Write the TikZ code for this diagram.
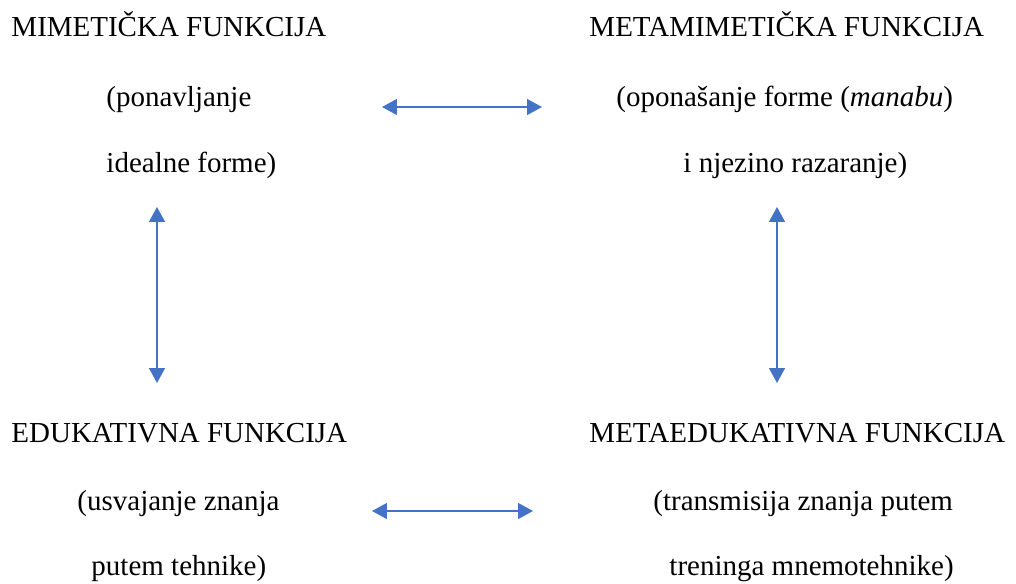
\documentclass[tikz,border=0pt]{standalone}
\usepackage{fontspec}
\setmainfont{Liberation Serif}
\usetikzlibrary{arrows.meta}
\definecolor{arrowblue}{HTML}{4472C4}
\begin{document}
\begin{tikzpicture}
[x=0.414pt,y=-0.414pt,
every node/.style={anchor=base west,inner sep=0pt,font=\rmfamily\fontsize{12}{14}\selectfont},
link/.style={arrowblue,line width=0.65pt,{Triangle[length=6.2pt,width=6.6pt]}-{Triangle[length=6.2pt,width=6.6pt]}}]
	\useasboundingbox (0,0) rectangle (1016,583);
	% top left
	\node (mimTitle) at (11,37) {MIMETIČKA FUNKCIJA};
	\node (mimA) at (106,107) {(ponavljanje};
	\node (mimB) at (106,172) {idealne forme)};
	% top right
	\node (metamimTitle) at (589,37) {METAMIMETIČKA FUNKCIJA};
	\node (metamimA) at (616,107) {(oponašanje forme (\textit{manabu})};
	\node (metamimB) at (683,172) {i njezino razaranje)};
	% bottom left
	\node (eduTitle) at (11,442) {EDUKATIVNA FUNKCIJA};
	\node (eduA) at (77,510) {(usvajanje znanja};
	\node (eduB) at (91,575) {putem tehnike)};
	% bottom right
	\node (metaeduTitle) at (589,442) {METAEDUKATIVNA FUNKCIJA};
	\node (metaeduA) at (653,510) {(transmisija znanja putem};
	\node (metaeduB) at (669,575) {treninga mnemotehnike)};
	% arrow ends
	\coordinate (topL) at (382,107);
	\coordinate (topR) at (542,107);
	\coordinate (botL) at (372,511);
	\coordinate (botR) at (533,511);
	\coordinate (leftT) at (157,207);
	\coordinate (leftB) at (157,383);
	\coordinate (rightT) at (777,207);
	\coordinate (rightB) at (777,383);
	\draw[link] (topL) -- (topR);
	\draw[link] (botL) -- (botR);
	\draw[link] (leftT) -- (leftB);
	\draw[link] (rightT) -- (rightB);
\end{tikzpicture}
\end{document}
